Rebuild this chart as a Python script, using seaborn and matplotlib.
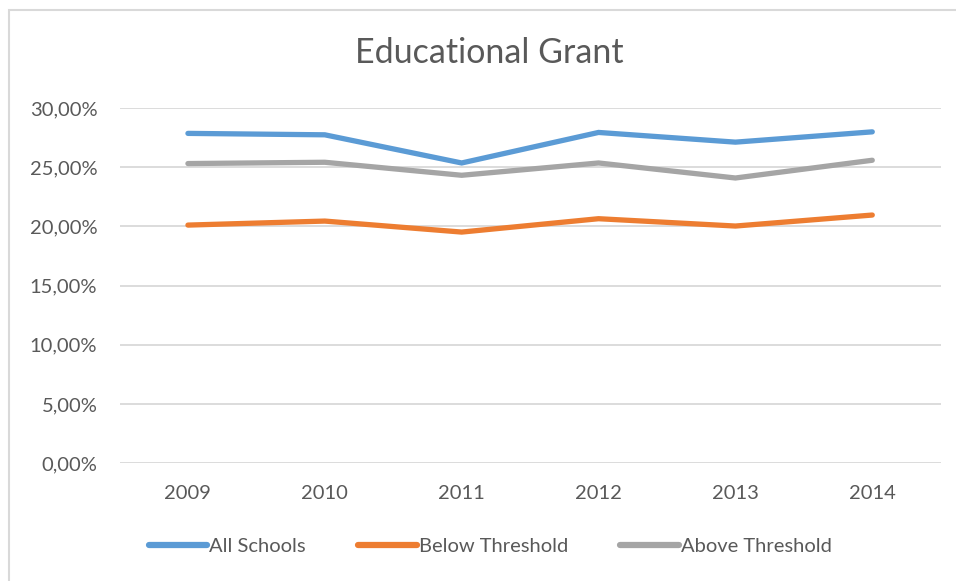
import matplotlib
matplotlib.use("Agg")
import matplotlib.pyplot as plt
import pandas as pd
import seaborn as sns
from matplotlib.patches import Rectangle
from matplotlib.ticker import FuncFormatter

# values (percent)
years = ["2009", "2010", "2011", "2012", "2013", "2014"]
all_schools = [27.86, 27.74, 25.36, 27.94, 27.12, 27.99]
below_threshold = [20.11, 20.45, 19.52, 20.65, 20.03, 20.96]
above_threshold = [25.31, 25.42, 24.32, 25.36, 24.09, 25.59]
series_names = ["All Schools", "Below Threshold", "Above Threshold"]
colors = ["#5B9BD5", "#ED7D31", "#A5A5A5"]

df = pd.DataFrame({
    "year": years * 3,
    "value": all_schools + below_threshold + above_threshold,
    "series": [s for s in series_names for _ in years],
})

sns.set_theme(style="white")
plt.rcParams["font.family"] = ["Lato", "DejaVu Sans"]

fig = plt.figure(figsize=(9.56, 5.81), dpi=100)
ax = fig.add_axes([0.125, 0.203, 0.859, 0.611])

# outer chart border (cut off at right / bottom as in the reference)
fig.patches.append(Rectangle((8.5 / 956, -0.1), 2.0, 1 - 9.5 / 581 + 0.1,
                             transform=fig.transFigure, fill=False,
                             edgecolor="#D9D9D9", linewidth=1.5))

sns.lineplot(data=df, x="year", y="value", hue="series", hue_order=series_names,
             palette=colors, linewidth=3.8, ax=ax, sort=False,
             solid_capstyle="round", solid_joinstyle="miter")

ax.set_xlim(-0.5, 5.5)
ax.set_ylim(0, 30)
ax.set_yticks([0, 5, 10, 15, 20, 25, 30])
ax.yaxis.set_major_formatter(FuncFormatter(lambda v, p: f"{v:.2f}%".replace(".", ",")))
ax.grid(axis="y", color="#D9D9D9", linewidth=1.3)
ax.grid(axis="x", visible=False)
ax.set_axisbelow(True)
for s in ax.spines.values():
    s.set_visible(False)
ax.tick_params(axis="both", length=0, labelsize=14.5, labelcolor="#595959")
ax.tick_params(axis="y", pad=16)
ax.tick_params(axis="x", pad=16)
ax.set_xlabel("")
ax.set_ylabel("")

fig.text(0.512, 1 - 53 / 581, "Educational Grant", ha="center", va="center",
         fontsize=24.5, color="#595959")

handles, labels = ax.get_legend_handles_labels()
ax.legend(handles, labels, loc="center", bbox_to_anchor=(0.513, 1 - 546 / 581),
          bbox_transform=fig.transFigure, ncol=3, frameon=False, fontsize=14.5,
          labelcolor="#595959", handlelength=2.9, handletextpad=0.1,
          columnspacing=2.6)
for line in ax.get_legend().get_lines():
    line.set_linewidth(4.5)

fig.savefig("out.png", dpi=100, facecolor="white")
